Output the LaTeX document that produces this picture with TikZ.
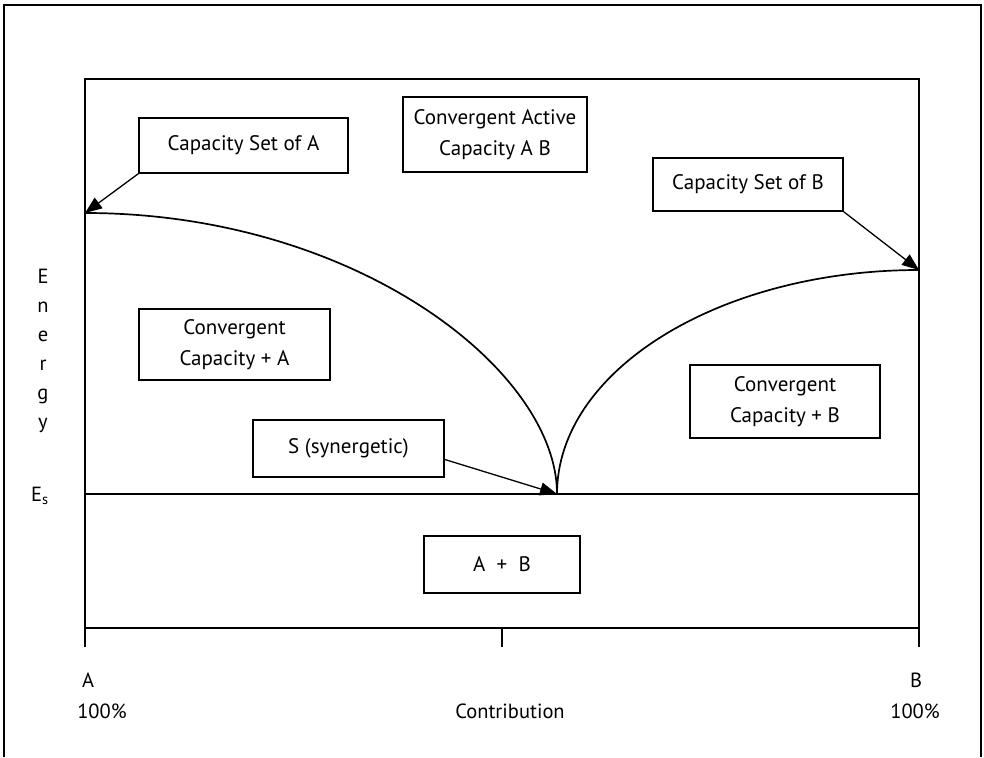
\documentclass[tikz,border=0pt]{standalone}
\usepackage{fontspec}
\setmainfont{PT Sans}
\usetikzlibrary{arrows.meta,calc}
\begin{document}
\begin{tikzpicture}[x=1pt,y=-1pt,
  ln/.style={line width=1.7pt,black},
  lab/.style={font=\fontsize{20.5}{29}\selectfont,inner sep=0pt},
  box/.style={draw,line width=1.6pt,font=\fontsize{21}{31}\selectfont,align=center,inner sep=0pt},
  arr/.style={line width=1.3pt,-{Triangle[length=17pt,width=13pt]}}]
\useasboundingbox (0,0) rectangle (984,757);
% outer border (open at bottom)
\draw[line width=1.4pt] (4,757) -- (4,5) -- (981,5) -- (981,757);
% coordinates
\coordinate (tl) at (85,79);
\coordinate (tr) at (919,79);
\coordinate (o) at (85,628);
\coordinate (r) at (919,628);
\coordinate (ot) at (85,647);
\coordinate (rt) at (919,647);
\coordinate (mid) at (502,628);
\coordinate (midt) at (502,647);
\coordinate (esl) at (85,494);
\coordinate (esr) at (919,494);
\coordinate (cusp) at (557,494);
\coordinate (pA) at (85,213);
\coordinate (pB) at (919,270);
% frame and axes
\draw[ln] (ot) -- (tl) -- (tr) -- (rt);
\draw[ln] (o) -- (r);
\draw[ln] (mid) -- (midt);
\draw[ln] (esl) -- (esr);
% curves
\draw[ln] (pA) .. controls (355,213) and (557,370) .. (cusp);
\draw[ln] (cusp) .. controls (557,370.5) and (719.1,270) .. (pB);
% boxes
\node[box,minimum width=209pt,minimum height=55pt] (capA) at (243.5,145.5) {Capacity Set of A};
\node[box,minimum width=184pt,minimum height=75pt] (act) at (495,134.5) {Convergent Active\\Capacity A B};
\node[box,minimum width=190pt,minimum height=53pt] (capB) at (748,184.5) {Capacity Set of B};
\node[box,minimum width=191pt,minimum height=71pt] (convA) at (234.5,344.5) {Convergent\\Capacity + A};
\node[box,minimum width=190pt,minimum height=73pt] (convB) at (785,401.5) {Convergent\\Capacity + B};
\node[box,minimum width=191pt,minimum height=57pt] (syn) at (348.5,448.5) {S (synergetic)};
\node[box,minimum width=156pt,minimum height=57pt] (ab) at (502,564.5) {A \ + \ B};
% arrows
\draw[arr] (capA.south west) -- (pA);
\draw[arr] (capB.south east) -- (pB);
\draw[arr] ($(syn.east)+(0,11)$) -- (cusp);
% axis labels
\node[lab,anchor=base] (e1) at (43,283) {E};
\node[lab,anchor=base] (e2) at (43,312) {n};
\node[lab,anchor=base] (e3) at (43,341) {e};
\node[lab,anchor=base] (e4) at (43,370) {r};
\node[lab,anchor=base] (e5) at (43,399) {g};
\node[lab,anchor=base] (e6) at (43,428) {y};
\node[lab] (es) at (40,496) {E\textsubscript{s}};
\node[lab] (la) at (88,680) {A};
\node[lab] (lap) at (102,711) {100\%};
\node[lab] (lc) at (510,711) {Contribution};
\node[lab] (lb) at (916,680) {B};
\node[lab] (lbp) at (915,711) {100\%};
\end{tikzpicture}
\end{document}
